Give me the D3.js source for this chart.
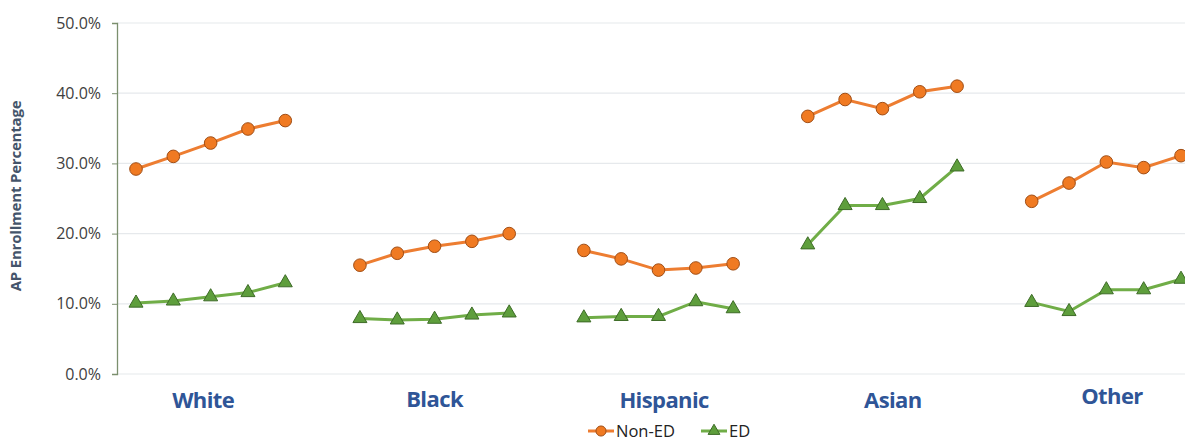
<!DOCTYPE html>
<html>
<head>
<meta charset="utf-8">
<script src="https://cdn.jsdelivr.net/npm/d3@7"></script>
<style>
  body { margin: 0; background: #fff; }
  svg { font-family: "Open Sans", "Noto Sans", sans-serif; }
</style>
</head>
<body>
<svg id="chart" width="1185" height="441"></svg>
<script>
let groups = ['White', 'Black', 'Hispanic', 'Asian', 'Other'];
let nonED = [
  [29.2, 31.0, 32.9, 34.9, 36.1],
  [15.5, 17.2, 18.2, 18.9, 20.0],
  [17.6, 16.4, 14.8, 15.1, 15.7],
  [36.7, 39.1, 37.8, 40.2, 41.0],
  [24.6, 27.2, 30.2, 29.4, 31.1]
];
let ed = [
  [10.1, 10.4, 11.0, 11.6, 13.0],
  [7.9, 7.7, 7.8, 8.4, 8.7],
  [8.0, 8.2, 8.2, 10.3, 9.3],
  [18.4, 24.0, 24.0, 25.0, 29.5],
  [10.2, 8.9, 12.0, 12.0, 13.5]
];
let yTicks = [0, 10, 20, 30, 40, 50];
// where each group label sits, in slots from the group's first point
let labelSlot = [1.8, 2.0, 2.15, 2.28, 2.15];
let labelY = [408, 407, 408, 408, 404];

let margin = {top: 23, left: 117};
let svgWidth = 1185;
let plotBottom = 374;

// each group uses 5 slots plus one empty slot between groups
let xScale = d3.scaleLinear().domain([0, 28]).range([136, 1181]);
let yScale = d3.scaleLinear().domain([0, 50]).range([plotBottom, margin.top]);
let slot = (g, i) => g * 6 + i;

let svg = d3.select('#chart');

// gridlines
svg.append('g')
  .selectAll('line')
  .data(yTicks)
  .enter()
  .append('line')
  .attr('x1', margin.left)
  .attr('x2', svgWidth)
  .attr('y1', d => yScale(d))
  .attr('y2', d => yScale(d))
  .attr('stroke', '#e6e9ec')
  .attr('stroke-width', 1.2);

// y axis
let yAxis = svg.append('g')
  .attr('transform', `translate(${margin.left},0)`)
  .call(d3.axisLeft(yScale).tickValues(yTicks).tickSize(5).tickPadding(11)
    .tickFormat(d => d.toFixed(1) + '%'));
yAxis.select('.domain').attr('stroke', '#7b8f6e').attr('stroke-width', 1.3);
yAxis.selectAll('.tick line').attr('stroke', '#7b8f6e');
yAxis.selectAll('.tick text')
  .attr('fill', '#404040')
  .style('font-size', '16px')
  .style('font-family', '"Open Sans", sans-serif');

svg.append('text')
  .attr('transform', `translate(21,196) rotate(-90)`)
  .attr('text-anchor', 'middle')
  .attr('fill', '#44546a')
  .style('font-size', '15px')
  .style('font-weight', 'bold')
  .style('letter-spacing', '-0.2px')
  .text('AP Enrollment Percentage');

// group labels
svg.append('g')
  .selectAll('text')
  .data(groups)
  .enter()
  .append('text')
  .attr('x', (d, g) => xScale(slot(g, labelSlot[g])))
  .attr('y', (d, g) => labelY[g])
  .attr('text-anchor', 'middle')
  .attr('fill', '#2f5597')
  .style('font-size', '22px')
  .style('font-weight', 'bold')
  .style('letter-spacing', '-0.6px')
  .text(d => d);

let line = d3.line()
  .x(d => xScale(d.s))
  .y(d => yScale(d.v));

function drawSeries(data, color, fill, stroke, symbol, size) {
  let g = svg.append('g');
  data.forEach((vals, gi) => {
    let pts = vals.map((v, i) => ({s: slot(gi, i), v: v}));
    g.append('path')
      .attr('d', line(pts))
      .attr('fill', 'none')
      .attr('stroke', color)
      .attr('stroke-width', 3);
    g.selectAll('.m' + gi)
      .data(pts)
      .enter()
      .append('path')
      .attr('d', d3.symbol().type(symbol).size(size))
      .attr('transform', d => `translate(${xScale(d.s)},${yScale(d.v)})`)
      .attr('fill', fill)
      .attr('stroke', stroke)
      .attr('stroke-width', 1);
  });
}

drawSeries(ed, '#70ad47', '#5e9e3c', '#3d6b27', d3.symbolTriangle, 85);
drawSeries(nonED, '#ed7d31', '#f07a22', '#a04e16', d3.symbolCircle, 125);

// legend
let legend = svg.append('g');
let items = [
  {label: 'Non-ED', x: 588, color: '#ed7d31', fill: '#f07a22', stroke: '#a04e16', sym: d3.symbolCircle, size: 80},
  {label: 'ED', x: 701, color: '#70ad47', fill: '#5e9e3c', stroke: '#3d6b27', sym: d3.symbolTriangle, size: 60}
];
items.forEach(it => {
  legend.append('line')
    .attr('x1', it.x).attr('x2', it.x + 26)
    .attr('y1', 431).attr('y2', 431)
    .attr('stroke', it.color).attr('stroke-width', 3);
  legend.append('path')
    .attr('d', d3.symbol().type(it.sym).size(it.size))
    .attr('transform', `translate(${it.x + 13},431)`)
    .attr('fill', it.fill)
    .attr('stroke', it.stroke);
  legend.append('text')
    .attr('x', it.x + 28)
    .attr('y', 437)
    .attr('fill', '#222')
    .style('font-size', '16.5px')
    .text(it.label);
});
</script>
</body>
</html>
